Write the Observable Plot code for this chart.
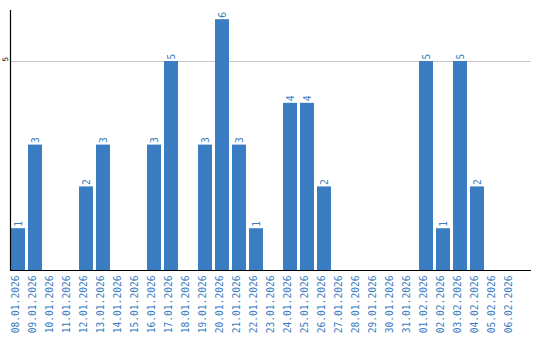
<!DOCTYPE html>
<html>
<head>
<meta charset="utf-8">
<script src="https://cdn.jsdelivr.net/npm/d3@7"></script>
<script src="https://cdn.jsdelivr.net/npm/@observablehq/plot@0.6"></script>
<style>
  html, body { margin: 0; padding: 0; background: #fff; }
</style>
</head>
<body>
<div id="chart"></div>
<script>
const dates = [
  "08.01.2026","09.01.2026","10.01.2026","11.01.2026","12.01.2026","13.01.2026",
  "14.01.2026","15.01.2026","16.01.2026","17.01.2026","18.01.2026","19.01.2026",
  "20.01.2026","21.01.2026","22.01.2026","23.01.2026","24.01.2026","25.01.2026",
  "26.01.2026","27.01.2026","28.01.2026","29.01.2026","30.01.2026","31.01.2026",
  "01.02.2026","02.02.2026","03.02.2026","04.02.2026","05.02.2026","06.02.2026"
];
const counts = [1,3,0,0,2,3,0,0,3,5,0,3,6,3,1,0,4,4,2,0,0,0,0,0,5,1,5,2,0,0];
const yTicks = [5];
const yMax = 6.22;

const data = dates.map((d, i) => ({date: d, count: counts[i]}));
const blue = "#3b7dc2";

const chart = Plot.plot({
  width: 540,
  height: 340,
  marginLeft: 10,
  marginRight: 9,
  marginTop: 10,
  marginBottom: 70,
  style: {background: "#fff", fontFamily: "DejaVu Sans Mono", fontSize: "10px"},
  x: {domain: dates, range: [11, 518], paddingInner: 3 / 17, paddingOuter: 0, axis: null},
  y: {domain: [0, yMax], axis: null},
  marks: [
    Plot.ruleY(yTicks, {stroke: "#c8c8c8", strokeWidth: 1}),
    Plot.barY(data, {x: "date", y: "count", fill: blue}),
    Plot.text(data.filter(d => d.count > 0), {
      x: "date", y: "count", text: d => String(d.count),
      rotate: -90, textAnchor: "start", dy: -2, fill: blue, fontSize: 9.6
    }),
    Plot.text(dates, {
      x: d => d, frameAnchor: "bottom", text: d => d,
      rotate: -90, textAnchor: "end", dy: 5, fill: blue, fontSize: 9.6
    }),
    Plot.text(yTicks, {
      y: d => d, frameAnchor: "left", dx: -5, text: d => String(d),
      rotate: -90, fill: "#000", fontSize: 7.5, fontFamily: "DejaVu Sans"
    }),
    Plot.ruleY([0], {stroke: "#000", strokeWidth: 1.2}),
    Plot.ruleX([dates[0]], {y1: 0, y2: yMax, dx: -8, stroke: "#000", strokeWidth: 1.2})
  ]
});
document.getElementById("chart").appendChild(chart);
</script>
</body>
</html>
